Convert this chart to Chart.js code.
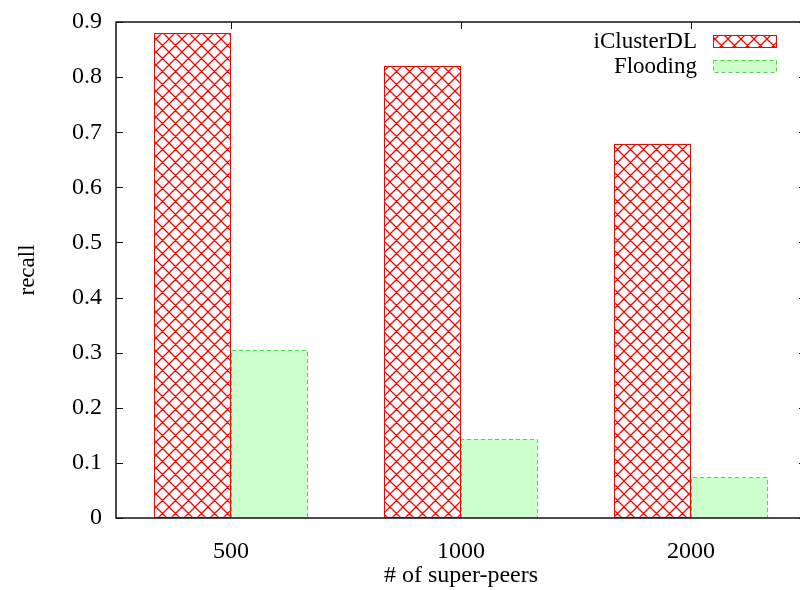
<!DOCTYPE html>
<html>
<head>
<meta charset="utf-8">
<script src="https://cdn.jsdelivr.net/npm/chart.js@4"></script>
<style>
  body { margin: 0; overflow: hidden; background: #fff; }
  #wrap { width: 810px; height: 590px; }
</style>
</head>
<body>
<div id="wrap"><canvas id="recallChart" width="810" height="590"></canvas></div>
<script>
const categories = ["500", "1000", "2000"];
const iClusterDL = [0.880, 0.820, 0.679];
const flooding = [0.305, 0.143, 0.074];
const seriesNames = ["iClusterDL", "Flooding"];

const serif = '"Liberation Serif", "DejaVu Serif", serif';
const floodFill = "#ccffcc";
const floodEdge = "#44dd44";

// red cross-hatch like gnuplot's pattern fill
function hatch() {
  const s = 13;
  const c = document.createElement("canvas");
  c.width = s;
  c.height = s;
  const g = c.getContext("2d");
  g.fillStyle = "#ffffff";
  g.fillRect(0, 0, s, s);
  g.strokeStyle = "#ff0000";
  g.lineWidth = 1.3;
  g.beginPath();
  for (const o of [-s, 0, s]) {
    g.moveTo(o, 0); g.lineTo(o + s, s);
    g.moveTo(o + s, 0); g.lineTo(o, s);
  }
  g.stroke();
  return g.createPattern(c, "repeat");
}

const ctx = document.getElementById("recallChart");
const redHatch = hatch();

// border box + inward ticks on all four sides
const frame = {
  id: "frame",
  beforeDatasetsDraw(chart) {
    const { ctx, chartArea: a, scales } = chart;
    ctx.save();
    ctx.strokeStyle = "#111";
    ctx.lineWidth = 1;
    ctx.beginPath();
    scales.y.ticks.forEach((t) => {
      const y = Math.round(scales.y.getPixelForValue(t.value)) + 0.5;
      ctx.moveTo(a.left, y); ctx.lineTo(a.left + 7, y);
      ctx.moveTo(a.right, y); ctx.lineTo(a.right - 7, y);
    });
    categories.forEach((c, i) => {
      const x = Math.round(scales.x.getPixelForValue(i)) + 0.5;
      ctx.moveTo(x, a.top); ctx.lineTo(x, a.top + 7);
      ctx.moveTo(x, a.bottom); ctx.lineTo(x, a.bottom - 7);
    });
    ctx.stroke();
    ctx.restore();
  },
  afterDatasetsDraw(chart) {
    const { ctx, chartArea: a } = chart;
    ctx.save();
    // dashed edges of the Flooding bars
    ctx.strokeStyle = floodEdge;
    ctx.lineWidth = 1;
    ctx.setLineDash([4, 3]);
    chart.getDatasetMeta(1).data.forEach((bar) => {
      const l = Math.round(bar.x - bar.width / 2) + 0.5;
      const r = Math.round(bar.x + bar.width / 2) - 0.5;
      const t = Math.round(bar.y) + 0.5;
      ctx.beginPath();
      ctx.moveTo(l, a.bottom); ctx.lineTo(l, t); ctx.lineTo(r, t); ctx.lineTo(r, a.bottom);
      ctx.stroke();
    });
    ctx.setLineDash([]);
    ctx.strokeStyle = "#111";
    ctx.lineWidth = 1.5;
    ctx.strokeRect(a.left, a.top, a.right - a.left, a.bottom - a.top);

    // legend, text right-aligned before the sample box
    ctx.font = "23px " + serif;
    ctx.textAlign = "right";
    ctx.textBaseline = "middle";
    const rows = [41, 66];
    rows.forEach((y, i) => {
      ctx.fillStyle = "#000";
      ctx.fillText(seriesNames[i], 697, y + 1);
      ctx.lineWidth = 1;
      if (i === 0) {
        ctx.fillStyle = redHatch;
        ctx.fillRect(713, y - 6, 64, 12);
        ctx.strokeStyle = "#ff0000";
        ctx.strokeRect(713.5, y - 5.5, 63, 12);
      } else {
        ctx.fillStyle = floodFill;
        ctx.fillRect(713, y - 6, 64, 12);
        ctx.strokeStyle = floodEdge;
        ctx.setLineDash([4, 3]);
        ctx.strokeRect(713.5, y - 5.5, 63, 12);
        ctx.setLineDash([]);
      }
    });
    ctx.restore();
  },
};

new Chart(ctx, {
  type: "bar",
  data: {
    labels: categories,
    datasets: [
      {
        label: seriesNames[0],
        data: iClusterDL,
        backgroundColor: redHatch,
        borderColor: "#ff0000",
        borderWidth: 1.2,
        borderSkipped: false,
      },
      {
        label: seriesNames[1],
        data: flooding,
        backgroundColor: floodFill,
        borderWidth: 0,
      },
    ],
  },
  options: {
    responsive: false,
    animation: false,
    layout: { padding: { left: 0, top: 22, right: 4, bottom: 0 } },
    datasets: { bar: { categoryPercentage: 0.67, barPercentage: 1 } },
    plugins: { legend: { display: false }, tooltip: { enabled: false } },
    scales: {
      x: {
        grid: { display: false, drawTicks: false },
        border: { display: false },
        ticks: { color: "#000", font: { family: serif, size: 24 }, padding: 19 },
        title: {
          display: true,
          text: "# of super-peers",
          color: "#000",
          font: { family: serif, size: 24 },
          padding: { top: 9, bottom: 0 },
        },
        afterFit(scale) {
          scale.height = 72;
          scale.paddingLeft = 0;
          scale.paddingRight = 0;
        },
      },
      y: {
        min: 0,
        max: 0.9,
        grid: { display: false, drawTicks: false },
        border: { display: false },
        ticks: { stepSize: 0.1, color: "#000", font: { family: serif, size: 24 }, padding: 14 },
        title: {
          display: true,
          text: "recall",
          color: "#000",
          font: { family: serif, size: 23 },
          padding: { top: 14, bottom: 0 },
        },
        afterFit(scale) {
          scale.width = 116;
          scale.paddingTop = 0;
          scale.paddingBottom = 0;
        },
      },
    },
  },
  plugins: [frame],
});
</script>
</body>
</html>
